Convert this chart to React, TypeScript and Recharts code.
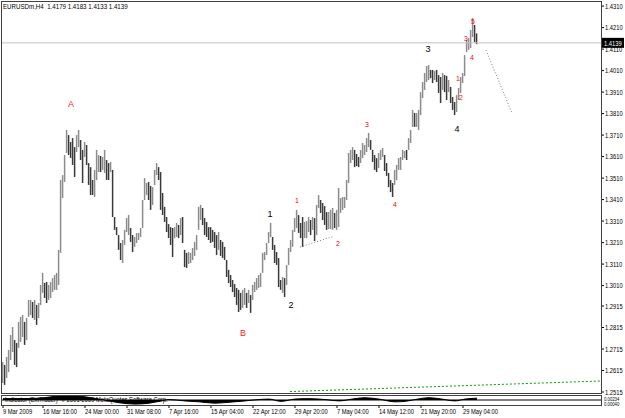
import React from "react";
import {
  ComposedChart,
  Bar,
  Area,
  Scatter,
  XAxis,
  YAxis,
  ReferenceLine,
} from "recharts";

const FONT = "'Liberation Sans', Arial, sans-serif";
const SQUEEZE = 0.77;

// EURUSDm H4 bars, 9 Mar - 29 May 2009
const highs = [
  1.2655, 1.2641, 1.2678, 1.2711, 1.278, 1.2817, 1.2757, 1.2743, 1.2841, 1.2864,
  1.2873, 1.2841, 1.2859, 1.2943, 1.2943, 1.2934, 1.2943, 1.292, 1.2929, 1.3013,
  1.3069, 1.3022, 1.3027, 1.3013, 1.3027, 1.3045, 1.3059, 1.3069, 1.3176, 1.3501,
  1.3524, 1.3617, 1.3734, 1.371, 1.3678, 1.3696, 1.3654, 1.371, 1.3734, 1.3687,
  1.3641, 1.3678, 1.3664, 1.358, 1.3561, 1.3501, 1.3548, 1.3641, 1.3617, 1.3613,
  1.3608, 1.3641, 1.3594, 1.358, 1.3585, 1.3548, 1.3329, 1.3282, 1.3245, 1.3208,
  1.3222, 1.3269, 1.3324, 1.3338, 1.3278, 1.3245, 1.3236, 1.3255, 1.3255, 1.3278,
  1.3408, 1.351, 1.3487, 1.3492, 1.3473, 1.3468, 1.3548, 1.358, 1.3561, 1.3538,
  1.3441, 1.3376, 1.3329, 1.3296, 1.3282, 1.3278, 1.3282, 1.3301, 1.3292, 1.3324,
  1.3329, 1.3176, 1.3162, 1.3166, 1.3162, 1.3185, 1.3213, 1.3245, 1.3376, 1.3385,
  1.3371, 1.3324, 1.3306, 1.3282, 1.3282, 1.3269, 1.3259, 1.3245, 1.3259, 1.3222,
  1.3213, 1.319, 1.3129, 1.3083, 1.3059, 1.3036, 1.3017, 1.2999, 1.299, 1.2976,
  1.299, 1.2999, 1.2976, 1.299, 1.2966, 1.3013, 1.3027, 1.3045, 1.3059, 1.3069,
  1.3162, 1.3166, 1.3208, 1.3259, 1.3301, 1.3236, 1.3199, 1.3166, 1.3138, 1.3036,
  1.305, 1.3045, 1.3106, 1.3185, 1.3222, 1.3269, 1.3324, 1.3362, 1.3338, 1.3301,
  1.3329, 1.3306, 1.331, 1.3329, 1.3315, 1.3329, 1.3324, 1.3385, 1.3431, 1.3408,
  1.3394, 1.338, 1.3352, 1.3352, 1.3362, 1.3371, 1.3348, 1.3362, 1.3464, 1.3417,
  1.3422, 1.3422, 1.3501, 1.3627, 1.3641, 1.3654, 1.3641, 1.3622, 1.3608, 1.3641,
  1.3673, 1.3664, 1.3696, 1.372, 1.3687, 1.3641, 1.3617, 1.3603, 1.3627, 1.3641,
  1.365, 1.3617, 1.358, 1.3534, 1.3501, 1.3487, 1.3548, 1.3571, 1.3603, 1.3608,
  1.3641, 1.3636, 1.3641, 1.3696, 1.3734, 1.3827, 1.3813, 1.3813, 1.3827, 1.391,
  1.3957, 1.3999, 1.4031, 1.4036, 1.4013, 1.4013, 1.4008, 1.4013, 1.3989, 1.398,
  1.3999, 1.3989, 1.3985, 1.3966, 1.3934, 1.3887, 1.3864, 1.3896, 1.3929, 1.398,
  1.3999, 1.4082, 1.4152, 1.4161, 1.4199, 1.4254, 1.4222, 1.4183,
];

const lows = [
  1.2557, 1.2548, 1.258, 1.2608, 1.2664, 1.2701, 1.2641, 1.2631, 1.272, 1.2748,
  1.2771, 1.2734, 1.2757, 1.2864, 1.2873, 1.2859, 1.285, 1.2827, 1.2859, 1.292,
  1.2976, 1.2952, 1.2929, 1.2943, 1.2952, 1.298, 1.299, 1.299, 1.3013, 1.3162,
  1.3417, 1.3492, 1.3627, 1.3617, 1.3603, 1.3571, 1.3515, 1.3631, 1.3654, 1.3594,
  1.3487, 1.3608, 1.3571, 1.3478, 1.3431, 1.3431, 1.3422, 1.3501, 1.3538, 1.3538,
  1.3548, 1.3534, 1.3501, 1.3501, 1.3538, 1.3329, 1.3269, 1.3245, 1.3176, 1.3129,
  1.3115, 1.3199, 1.3259, 1.3245, 1.3213, 1.3166, 1.319, 1.3208, 1.3222, 1.3236,
  1.3278, 1.3408, 1.3431, 1.3408, 1.3362, 1.3385, 1.3478, 1.3524, 1.3501, 1.3362,
  1.3338, 1.3306, 1.3259, 1.3231, 1.3199, 1.3143, 1.3231, 1.3236, 1.3231, 1.3245,
  1.3208, 1.3096, 1.3092, 1.311, 1.3115, 1.3129, 1.3148, 1.3176, 1.3269, 1.3315,
  1.3292, 1.3245, 1.3236, 1.3222, 1.3208, 1.3213, 1.3185, 1.3152, 1.3176, 1.3148,
  1.3138, 1.3129, 1.305, 1.3022, 1.3003, 1.298, 1.2957, 1.292, 1.2887, 1.2897,
  1.2906, 1.292, 1.2906, 1.2929, 1.2883, 1.2943, 1.298, 1.299, 1.2999, 1.3003,
  1.3069, 1.3129, 1.3152, 1.3208, 1.3236, 1.3176, 1.3115, 1.3106, 1.3003, 1.299,
  1.2976, 1.2957, 1.3013, 1.3106, 1.3166, 1.319, 1.3259, 1.3278, 1.3255, 1.3231,
  1.319, 1.3231, 1.3231, 1.3259, 1.3245, 1.3269, 1.3217, 1.3245, 1.3371, 1.3348,
  1.3315, 1.3292, 1.3269, 1.3273, 1.3273, 1.3269, 1.3278, 1.3269, 1.3282, 1.3348,
  1.3362, 1.3371, 1.3408, 1.3487, 1.358, 1.3594, 1.3561, 1.3566, 1.3561, 1.358,
  1.3603, 1.3617, 1.3631, 1.3654, 1.3641, 1.3585, 1.3548, 1.3538, 1.3557, 1.3594,
  1.3608, 1.3543, 1.352, 1.3468, 1.3445, 1.3422, 1.3478, 1.3501, 1.3548, 1.3548,
  1.3594, 1.3603, 1.3594, 1.3641, 1.3673, 1.3748, 1.3748, 1.3748, 1.3734, 1.3803,
  1.3882, 1.392, 1.3957, 1.3966, 1.3975, 1.3952, 1.3966, 1.3957, 1.3906, 1.3859,
  1.392, 1.391, 1.3873, 1.391, 1.3859, 1.3827, 1.3803, 1.3817, 1.3873, 1.3906,
  1.3952, 1.3985, 1.4096, 1.4106, 1.4115, 1.4166, 1.4143, 1.4133,
];

const dateTickIdx = [0, 20, 41, 62, 83, 104, 125, 146, 167, 188, 209, 230];
const dateLabels = [
  "9 Mar 2009",
  "16 Mar 16:00",
  "24 Mar 00:00",
  "31 Mar 08:00",
  "7 Apr 16:00",
  "15 Apr 04:00",
  "22 Apr 12:00",
  "29 Apr 20:00",
  "7 May 04:00",
  "14 May 12:00",
  "21 May 20:00",
  "29 May 04:00",
];

const priceTicks = [
  1.431, 1.421, 1.411, 1.401, 1.391, 1.381, 1.371, 1.361, 1.351, 1.341, 1.331,
  1.321, 1.311, 1.301, 1.2915, 1.2815, 1.2715, 1.2615, 1.2515,
];

const quote = "EURUSDm,H4  1.4179 1.4183 1.4133 1.4139";
const lastPrice = 1.4139;

// wave counts drawn on the chart
const waveLabels = [
  { text: "A", i: 34, price: 1.3854, kind: "major" },
  { text: "B", i: 120, price: 1.279, kind: "major" },
  { text: "1", i: 133.5, price: 1.3343, kind: "count" },
  { text: "2", i: 144, price: 1.292, kind: "count" },
  { text: "1", i: 147, price: 1.3408, kind: "minor" },
  { text: "2", i: 167.5, price: 1.3208, kind: "minor" },
  { text: "3", i: 182, price: 1.3761, kind: "minor" },
  { text: "4", i: 196, price: 1.3389, kind: "minor" },
  { text: "3", i: 212.5, price: 1.411, kind: "count" },
  { text: "4", i: 227, price: 1.3738, kind: "count" },
  { text: "1", i: 227.5, price: 1.3975, kind: "minor" },
  { text: "2", i: 229, price: 1.3887, kind: "minor" },
  { text: "3", i: 231.5, price: 1.4157, kind: "minor" },
  { text: "4", i: 234.5, price: 1.4073, kind: "minor" },
  { text: "5", i: 235, price: 1.424, kind: "minor" },
];

const projection = [
  { x: 241.5, y: 1.4105 },
  { x: 254.5, y: 1.3812 },
];
const wave2Line = [
  { x: 148.5, y: 1.3189 },
  { x: 165.5, y: 1.324 },
];
const greenLine = [
  { x: 143.5, y: 1.2517 },
  { x: 298.5, y: 1.2566 },
];

// lower indicator pane
const indIdx = [
  0, 8, 18, 26, 33, 41, 48, 53, 58, 66, 73, 78, 83, 91, 98, 106, 113, 121, 128,
  133, 139, 146, 153, 161, 168, 176, 181, 188, 196, 201, 206, 213, 218, 226,
  231, 237,
];
const indVal = [
  0.3, 0.3, 0.4, 0.8, 1.0, 0.7, 0.2, -0.2, -0.6, -0.9, -0.7, -0.3, 0.1, -0.2,
  -0.4, -0.7, -0.5, -0.2, 0.1, 0.2, -0.3, 0.2, 0.3, 0.1, -0.2, 0.3, 0.5, 0.2,
  -0.4, -0.3, 0.1, 0.5, 0.3, -0.2, 0.2, 0.4,
];

const UP = "#8c8c8c";
const DOWN = "#3a3a3a";
const LABEL_STYLE: Record<string, { size: number; color: string }> = {
  major: { size: 9, color: "#ff2020" },
  count: { size: 9, color: "#000000" },
  minor: { size: 7, color: "#ff0000" },
};

const bars = highs.map((h, i) => ({
  i,
  range: [lows[i], h],
  up: i === 0 || h + lows[i] >= highs[i - 1] + lows[i - 1],
}));

const indicator = indIdx.map((i, k) => ({ i, v: indVal[k] }));

function OhlcStick(props: any) {
  const { x, y, width, height, payload } = props;
  const cx = Math.floor(x + width / 2) + 0.6;
  return (
    <line
      x1={cx}
      x2={cx}
      y1={y}
      y2={y + Math.max(height, 1)}
      stroke={payload.up ? UP : DOWN}
      strokeWidth={1.5}
    />
  );
}

function WaveText(props: any) {
  const { cx, cy, payload } = props;
  const s = LABEL_STYLE[payload.kind];
  return (
    <text
      x={cx}
      y={cy}
      textAnchor="middle"
      dominantBaseline="central"
      fontSize={s.size}
      fill={s.color}
      fontFamily={FONT}
    >
      {payload.text}
    </text>
  );
}

function NarrowText(props: {
  x: number;
  y: number;
  text: string;
  fill?: string;
  central?: boolean;
}) {
  return (
    <text
      transform={`translate(${props.x} ${props.y}) scale(${SQUEEZE} 1)`}
      dominantBaseline={props.central ? "central" : "hanging"}
      fontSize={7.5}
      fill={props.fill || "#000"}
      fontFamily={FONT}
    >
      {props.text}
    </text>
  );
}

function PriceTick(props: any) {
  const { x, y, payload } = props;
  return <NarrowText x={x} y={y} text={payload.value.toFixed(4)} central />;
}

function PriceTag(props: any) {
  const { viewBox } = props;
  if (!viewBox) return null;
  const x = viewBox.x + viewBox.width + 1;
  const y = viewBox.y;
  return (
    <g>
      <rect x={x} y={y - 5} width={22} height={10} fill="#000" />
      <NarrowText x={x + 2} y={y} text={lastPrice.toFixed(4)} fill="#fff" central />
    </g>
  );
}

function DateTick(props: any) {
  const { x, y, payload } = props;
  const k = dateTickIdx.indexOf(payload.value);
  return <NarrowText x={x} y={y} text={dateLabels[k]} />;
}

const frame: React.CSSProperties = {
  position: "absolute",
  boxSizing: "border-box",
  border: "1px solid #404040",
  pointerEvents: "none",
};

const narrowDiv: React.CSSProperties = {
  position: "absolute",
  fontFamily: FONT,
  whiteSpace: "pre",
  color: "#000",
  transform: `scaleX(${SQUEEZE})`,
  transformOrigin: "left top",
};

export default function App() {
  return (
    <div
      style={{
        position: "absolute",
        left: 0,
        top: 0,
        width: 625,
        height: 418,
        background: "#fff",
        overflow: "hidden",
      }}
    >
      <div style={{ position: "absolute", left: 0, top: 0 }}>
        <ComposedChart
          width={625}
          height={395}
          data={bars}
          margin={{ top: 2, right: 0, bottom: 3, left: 2 }}
        >
          <XAxis
            dataKey="i"
            type="number"
            domain={[-0.5, 299]}
            hide
            allowDataOverflow
          />
          <YAxis
            orientation="right"
            width={24}
            domain={[1.2515, 1.4329]}
            ticks={priceTicks}
            interval={0}
            allowDataOverflow
            axisLine={false}
            tickLine={{ stroke: "#000" }}
            tickSize={3}
            tickMargin={1}
            tick={<PriceTick />}
          />
          <ReferenceLine y={lastPrice} stroke="#c0c0c0" label={<PriceTag />} />
          <ReferenceLine
            segment={greenLine}
            stroke="#00a000"
            strokeDasharray="2 2"
          />
          <ReferenceLine
            segment={wave2Line}
            stroke="#808080"
            strokeDasharray="1 2"
          />
          <ReferenceLine
            segment={projection}
            stroke="#808080"
            strokeDasharray="1 2"
          />
          <Bar
            dataKey="range"
            barSize={1}
            shape={<OhlcStick />}
            isAnimationActive={false}
          />
          <Scatter
            data={waveLabels}
            dataKey="price"
            shape={<WaveText />}
            isAnimationActive={false}
          />
        </ComposedChart>
      </div>

      <div style={{ position: "absolute", left: 0, top: 393 }}>
        <ComposedChart
          width={625}
          height={25}
          data={indicator}
          margin={{ top: 2, right: 24, bottom: 0, left: 2 }}
        >
          <XAxis
            dataKey="i"
            type="number"
            domain={[-0.5, 299]}
            ticks={dateTickIdx}
            interval={0}
            allowDataOverflow
            height={13}
            axisLine={false}
            tickLine={{ stroke: "#000" }}
            tickSize={3}
            tickMargin={1}
            tick={<DateTick />}
          />
          <YAxis hide domain={[-1.1, 1.1]} />
          <ReferenceLine y={0} stroke="#000" />
          <Area
            dataKey="v"
            type="monotone"
            stroke="#000"
            fill="#000"
            fillOpacity={1}
            baseValue={0}
            isAnimationActive={false}
          />
        </ComposedChart>
      </div>

      <div style={{ ...frame, left: 1, top: 1, width: 601, height: 393 }} />
      <div style={{ ...frame, left: 1, top: 395, width: 601, height: 11 }} />

      <div style={{ ...narrowDiv, left: 3, top: 2, fontSize: 8, lineHeight: "9px" }}>
        {quote}
      </div>
      <div
        style={{ ...narrowDiv, left: 5, top: 396, fontSize: 7.5, lineHeight: "8px" }}
      >
        {"Indicator (ExtTrader)  © 2001-2009 MetaQuotes Software Corp."}
      </div>
      <div
        style={{ ...narrowDiv, left: 604, top: 397, fontSize: 5.5, lineHeight: "4.5px" }}
      >
        {"0.00234\n0.00040"}
      </div>
    </div>
  );
}
